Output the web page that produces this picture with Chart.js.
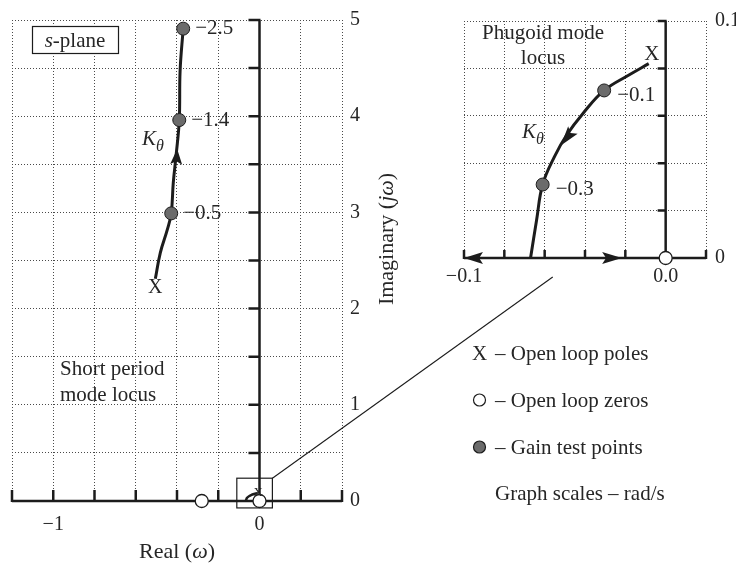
<!DOCTYPE html>
<html>
<head>
<meta charset="utf-8">
<script src="https://cdn.jsdelivr.net/npm/chart.js@4.4.1/dist/chart.umd.min.js"></script>
<style>
  html, body { margin: 0; padding: 0; background: #fff; }
  #wrap { position: relative; width: 741px; height: 563px; }
  #wrap canvas { position: absolute; left: 0; top: 0; }
</style>
</head>
<body>
<div id="wrap">
  <canvas id="main" width="741" height="563"></canvas>
  <canvas id="inset" width="741" height="563"></canvas>
</div>
<script>
"use strict";

/* --- DATA (rad/s) --- */

// short period mode, main s-plane
const spLocus = [[-0.505, 2.31], [-0.481, 2.58], [-0.447, 2.82], [-0.428, 2.99], [-0.418, 3.31], [-0.404, 3.6], [-0.389, 3.96], [-0.385, 4.47], [-0.37, 4.91]];
const spGain = [[-0.428, 2.99], [-0.389, 3.96], [-0.37, 4.91]];
const spGainLabels = ['\u22120.5', '\u22121.4', '\u22122.5'];
const spPole = [[-0.505, 2.22]];
const mainZeros = [[-0.28, 0], [0, 0]];
const spArrows = [[-0.404, 3.50, -0.399, 3.66]];

// phugoid mode (inset)
const phLocus = [[-0.0084, 0.082], [-0.018, 0.0773], [-0.0305, 0.0707], [-0.041, 0.061], [-0.049, 0.052], [-0.055, 0.043], [-0.061, 0.031], [-0.064, 0.016], [-0.067, 0]];
const phGain = [[-0.0305, 0.0707], [-0.061, 0.031]];
const phGainLabels = ['\u22120.1', '\u22120.3'];
const phPole = [[-0.0069, 0.086]];
const phZeros = [[0, 0]];
const phArrows = [[-0.046, 0.054, -0.052, 0.0475], [-0.0906, 0, -0.1, 0], [-0.0315, 0, -0.0217, 0]];

// tick labels
const mainXLabels = { '-1': '\u22121', '0': '0' };
const mainYLabels = { '0': '0', '1': '1', '2': '2', '3': '3', '4': '4', '5': '5' };
const insetXLabels = { '-0.1': '\u22120.1', '0': '0.0' };
const insetYLabels = { '0': '0', '0.1': '0.1' };

/* --- STYLE --- */

const ink = '#1c1c1c';
const txt = '#262626';
const gray = '#6b6b6b';
const serif = '"Liberation Serif", "Times New Roman", serif';

const pts = (arr) => arr.map(p => ({ x: p[0], y: p[1] }));

function pickLabel(map, v) {
  for (const k in map) {
    if (Math.abs(Number(k) - v) < 1e-9) return map[k];
  }
  return '';
}

function rich(ctx, parts, x, y, align) {
  let w = 0;
  parts.forEach(p => {
    ctx.font = (p.it ? 'italic ' : '') + p.size + 'px ' + serif;
    p.w = ctx.measureText(p.t).width;
    w += p.w;
  });
  let cx = align === 'center' ? x - w / 2 : x;
  ctx.textAlign = 'left';
  ctx.textBaseline = 'alphabetic';
  parts.forEach(p => {
    ctx.font = (p.it ? 'italic ' : '') + p.size + 'px ' + serif;
    ctx.fillText(p.t, cx, y + (p.dy || 0));
    cx += p.w;
  });
}

function arrowHead(ctx, x1, y1, x2, y2) {
  const len = Math.hypot(x2 - x1, y2 - y1);
  const a = Math.atan2(y2 - y1, x2 - x1);
  ctx.save();
  ctx.translate(x2, y2);
  ctx.rotate(a);
  ctx.beginPath();
  ctx.moveTo(0, 0);
  ctx.lineTo(-len, -6);
  ctx.lineTo(-len * 0.8, 0);
  ctx.lineTo(-len, 6);
  ctx.closePath();
  ctx.fillStyle = ink;
  ctx.fill();
  ctx.restore();
}

// thick axes through the origin, ticks pointing into the plot
function drawCross(chart, tl) {
  const { ctx, chartArea: a, scales: { x, y } } = chart;
  const x0 = x.getPixelForValue(0);
  const y0 = y.getPixelForValue(0);
  ctx.save();
  ctx.strokeStyle = ink;
  ctx.lineWidth = 2.5;
  ctx.beginPath();
  ctx.moveTo(a.left, y0);
  ctx.lineTo(a.right, y0);
  ctx.moveTo(x0, a.top);
  ctx.lineTo(x0, y0);
  x.ticks.forEach(t => {
    const px = x.getPixelForValue(t.value);
    ctx.moveTo(px, y0 + 1);
    ctx.lineTo(px, y0 - tl);
  });
  y.ticks.forEach(t => {
    if (Math.abs(t.value) < 1e-9) return;
    const py = y.getPixelForValue(t.value);
    ctx.moveTo(x0 + 1, py);
    ctx.lineTo(x0 - tl, py);
  });
  ctx.stroke();
  ctx.restore();
}

// X glyphs for poles, numbers beside gain points, arrows
function drawMarks(chart, arrows, labelDx, labelDy) {
  const { ctx, scales: { x, y } } = chart;
  ctx.save();
  ctx.fillStyle = txt;
  chart.data.datasets.forEach((ds, i) => {
    const meta = chart.getDatasetMeta(i);
    if (ds.poleGlyph) {
      ctx.font = ds.poleGlyph + 'px ' + serif;
      ctx.textAlign = 'center';
      ctx.textBaseline = 'middle';
      meta.data.forEach(el => ctx.fillText('X', el.x, el.y));
    }
    if (ds.gainLabels) {
      ctx.font = '21px ' + serif;
      ctx.textAlign = 'left';
      ctx.textBaseline = 'middle';
      meta.data.forEach((el, j) => ctx.fillText(ds.gainLabels[j], el.x + labelDx, el.y + labelDy));
    }
  });
  arrows.forEach(a => {
    arrowHead(ctx, x.getPixelForValue(a[0]), y.getPixelForValue(a[1]),
      x.getPixelForValue(a[2]), y.getPixelForValue(a[3]));
  });
  ctx.restore();
}

function kTheta(ctx, x, y) {
  ctx.fillStyle = txt;
  rich(ctx, [{ t: 'K', it: true, size: 21 }, { t: '\u03b8', it: true, size: 16, dy: 6 }], x, y, 'left');
}

function baseOptions(padding, xMin, xMax, xStep, yMin, yMax, yStep, xMap, yMap, xPad, yPad, xH, yW) {
  const gridOpts = { color: '#4a4a4a', lineWidth: 1, drawTicks: false };
  return {
    responsive: false,
    animation: false,
    events: [],
    layout: { padding: padding },
    plugins: { legend: { display: false }, tooltip: { enabled: false } },
    scales: {
      x: {
        type: 'linear', position: 'bottom', min: xMin, max: xMax,
        grid: gridOpts,
        border: { display: false, dash: [1, 2] },
        afterFit: (s) => { s.height = xH; },
        ticks: {
          stepSize: xStep, autoSkip: false, maxRotation: 0, padding: xPad,
          color: txt, font: { family: serif, size: 20 },
          callback: (v) => pickLabel(xMap, v)
        }
      },
      y: {
        type: 'linear', position: 'right', min: yMin, max: yMax,
        grid: gridOpts,
        border: { display: false, dash: [1, 2] },
        afterFit: (s) => { s.width = yW; },
        ticks: {
          stepSize: yStep, autoSkip: false, padding: yPad,
          color: txt, font: { family: serif, size: 20 },
          callback: (v) => pickLabel(yMap, v)
        }
      }
    }
  };
}

/* --- MAIN S-PLANE --- */

const mainPlugin = {
  id: 'mainDeco',
  beforeDatasetsDraw(chart) {
    drawCross(chart, 11);
    const { ctx, scales: { x, y } } = chart;
    // zoom box round the origin
    ctx.save();
    ctx.strokeStyle = ink;
    ctx.lineWidth = 1.2;
    const bx1 = x.getPixelForValue(-0.11), bx2 = x.getPixelForValue(0.0625);
    const by1 = y.getPixelForValue(0.237), by2 = y.getPixelForValue(-0.072);
    ctx.strokeRect(bx1, by1, bx2 - bx1, by2 - by1);
    ctx.restore();
  },
  afterDatasetsDraw(chart) {
    drawMarks(chart, spArrows, 12, 0);
  },
  afterDraw(chart) {
    const { ctx, chartArea: a } = chart;
    ctx.save();
    ctx.fillStyle = txt;
    ctx.strokeStyle = ink;

    // s-plane box
    ctx.fillStyle = '#fff';
    ctx.fillRect(32, 26, 86, 27);
    ctx.lineWidth = 1.2;
    ctx.strokeRect(32.5, 26.5, 86, 27);
    ctx.fillStyle = txt;
    rich(ctx, [{ t: 's', it: true, size: 21 }, { t: '-plane', size: 21 }], 75, 47, 'center');

    rich(ctx, [{ t: 'Short period', size: 21 }], 60, 375, 'left');
    rich(ctx, [{ t: 'mode locus', size: 21 }], 60, 401, 'left');
    kTheta(ctx, 142, 145);

    // axis titles
    rich(ctx, [{ t: 'Real (', size: 22 }, { t: '\u03c9', it: true, size: 22 }, { t: ')', size: 22 }], (a.left + a.right) / 2, 558, 'center');
    ctx.save();
    ctx.translate(393, 239);
    ctx.rotate(-Math.PI / 2);
    rich(ctx, [{ t: 'Imaginary (', size: 22 }, { t: 'j\u03c9', it: true, size: 22 }, { t: ')', size: 22 }], 0, 0, 'center');
    ctx.restore();

    // key
    ctx.font = '21px ' + serif;
    ctx.textAlign = 'left';
    ctx.textBaseline = 'alphabetic';
    ctx.fillText('X', 472, 360);
    ctx.fillText('\u2013 Open loop poles', 495, 360);
    ctx.fillText('\u2013 Open loop zeros', 495, 407);
    ctx.fillText('\u2013 Gain test points', 495, 454);
    ctx.fillText('Graph scales \u2013 rad/s', 495, 500);
    ctx.lineWidth = 1.2;
    ctx.beginPath();
    ctx.arc(479.5, 400, 6, 0, Math.PI * 2);
    ctx.fillStyle = '#fff';
    ctx.fill();
    ctx.stroke();
    ctx.beginPath();
    ctx.arc(479.5, 447, 6, 0, Math.PI * 2);
    ctx.fillStyle = gray;
    ctx.fill();
    ctx.stroke();
    ctx.restore();
  }
};

const mainChart = new Chart(document.getElementById('main'), {
  type: 'scatter',
  data: {
    datasets: [
      { data: pts(spGain), pointRadius: 6.5, backgroundColor: gray, borderColor: ink, borderWidth: 1, order: 1, clip: false, gainLabels: spGainLabels },
      { data: pts(mainZeros), pointRadius: 6.5, backgroundColor: '#fff', borderColor: ink, borderWidth: 1.3, order: 1, clip: false },
      { data: pts(spPole), pointRadius: 0, order: 2, poleGlyph: 20 },
      { data: pts(phPole), pointRadius: 0, order: 2, poleGlyph: 13 },
      { data: pts(spLocus), showLine: true, borderColor: ink, borderWidth: 3, pointRadius: 0, tension: 0.4, order: 3, clip: false },
      { data: pts(phLocus), showLine: true, borderColor: ink, borderWidth: 2.5, pointRadius: 0, tension: 0.4, order: 3, clip: false }
    ]
  },
  options: baseOptions({ left: 10, top: 16, right: 339, bottom: 22 },
    -1.2, 0.4, 0.2, 0, 5, 0.5, mainXLabels, mainYLabels, 12, 8, 40, 60),
  plugins: [mainPlugin]
});

/* --- PHUGOID INSET --- */

const insetPlugin = {
  id: 'insetDeco',
  beforeDatasetsDraw(chart) {
    drawCross(chart, 8);
  },
  afterDatasetsDraw(chart) {
    drawMarks(chart, phArrows, 13, 5);
  },
  afterDraw(chart) {
    const { ctx, scales: { x, y } } = chart;
    const m = mainChart.scales;
    ctx.save();
    ctx.fillStyle = txt;
    rich(ctx, [{ t: 'Phugoid mode', size: 21 }], 543, 39, 'center');
    rich(ctx, [{ t: 'locus', size: 21 }], 543, 64, 'center');
    kTheta(ctx, 522, 138);
    // leader from zoom box to the inset
    ctx.strokeStyle = ink;
    ctx.lineWidth = 1.1;
    ctx.beginPath();
    ctx.moveTo(m.x.getPixelForValue(0.0625), m.y.getPixelForValue(0.237));
    ctx.lineTo(x.getPixelForValue(-0.056), y.getPixelForValue(-0.008));
    ctx.stroke();
    ctx.restore();
  }
};

const insetChart = new Chart(document.getElementById('inset'), {
  type: 'scatter',
  data: {
    datasets: [
      { data: pts(phGain), pointRadius: 6.5, backgroundColor: gray, borderColor: ink, borderWidth: 1, order: 1, clip: false, gainLabels: phGainLabels },
      { data: pts(phZeros), pointRadius: 6.5, backgroundColor: '#fff', borderColor: ink, borderWidth: 1.3, order: 1, clip: false },
      { data: pts(phPole), pointRadius: 0, order: 2, poleGlyph: 21 },
      { data: pts(phLocus), showLine: true, borderColor: ink, borderWidth: 3, pointRadius: 0, tension: 0.4, order: 3, clip: false }
    ]
  },
  options: baseOptions({ left: 464, top: 16, right: 5, bottom: 275 },
    -0.1, 0.02, 0.02, 0, 0.1, 0.02, insetXLabels, insetYLabels, 7, 9, 30, 30),
  plugins: [insetPlugin]
});
</script>
</body>
</html>
